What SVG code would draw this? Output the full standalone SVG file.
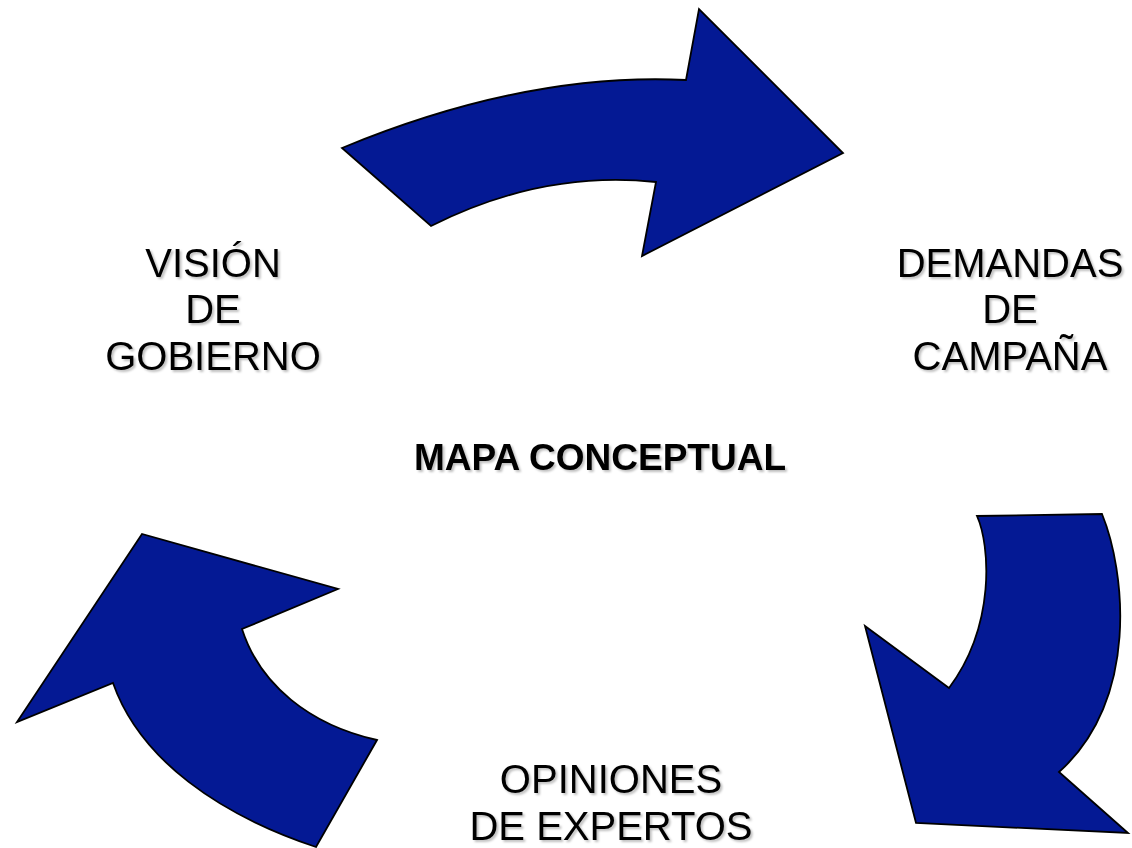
<svg xmlns="http://www.w3.org/2000/svg" width="1132" height="848" viewBox="0 0 1132 848">
<defs>
<style>
.arrow{fill:#041994;stroke:#000;stroke-width:1.8;stroke-linejoin:miter}
.lbl{font-family:"Liberation Sans",Arial,sans-serif;font-size:40px;fill:#000;text-anchor:middle;filter:url(#sh)}
.title{font-family:"Liberation Sans",Arial,sans-serif;font-size:37px;font-weight:bold;fill:#000;text-anchor:middle;filter:url(#sh)}
</style>
<filter id="sh" x="-10%" y="-30%" width="120%" height="160%">
<feDropShadow dx="2" dy="2" stdDeviation="1" flood-color="#000" flood-opacity="0.25"/>
</filter>
</defs>
<rect width="1132" height="848" fill="#fff"/>
<g id="connectors">
<path id="arrow-top" class="arrow" d="M342,148 Q526,72 686,80 L699,9 L843,153 L642,256 L656,182 Q542,170 431,226 Z"/>
<path id="arrow-right" class="arrow" d="M1102,514 C1125,570 1140,700 1059,772 L1128,833 L916,823 L865,626 L949,688 C996,625 990,545 977,516 Z"/>
<path id="arrow-left" class="arrow" d="M316,847 C220,815 140,760 113,683 L17,722 L142,534 L338,589 L242,629 C260,685 310,725 377,740 Z"/>
</g>
<g id="node-vision">
<text class="lbl" x="213" y="277">VISIÓN</text>
<text class="lbl" x="213" y="323">DE</text>
<text class="lbl" x="213" y="370">GOBIERNO</text>
</g>
<g id="node-demandas">
<text class="lbl" x="1010" y="277">DEMANDAS</text>
<text class="lbl" x="1010" y="323">DE</text>
<text class="lbl" x="1010" y="370">CAMPAÑA</text>
</g>
<g id="node-title">
<text class="title" x="600" y="470">MAPA CONCEPTUAL</text>
</g>
<g id="node-opiniones">
<text class="lbl" x="611" y="793">OPINIONES</text>
<text class="lbl" x="611" y="840">DE EXPERTOS</text>
</g>
</svg>
